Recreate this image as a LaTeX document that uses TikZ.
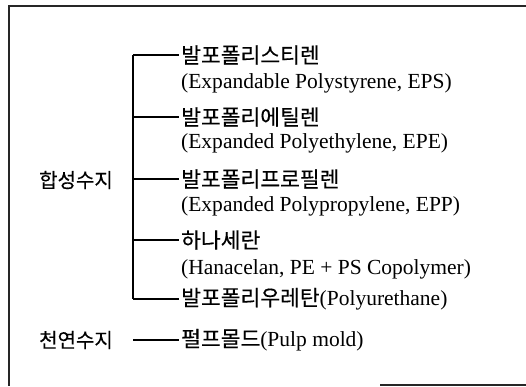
\documentclass[tikz,border=0pt]{standalone}
\usepackage{fontspec}
\setmainfont{Liberation Serif}
\newfontfamily\kr[FakeBold=0.3]{Noto Sans CJK KR}
\usetikzlibrary{positioning}

\newcommand{\engl}[1]{{\rmfamily\fontsize{21.5}{25}\selectfont #1}}

\begin{document}
\begin{tikzpicture}[
  x=1pt, y=-1pt,
  % Text nodes
  kname/.style={anchor=west, inner sep=2pt, font=\kr\fontsize{21.5}{25}\selectfont},
  ename/.style={anchor=west, inner sep=2pt, font=\fontsize{21.5}{25}\selectfont},
  group/.style={inner sep=2pt, font=\kr\fontsize{20}{23}\selectfont},
  % Lines
  branch/.style={draw=black, line width=1.3pt},
  frame/.style={draw=black!85, line width=1.6pt},
]
\useasboundingbox (0,0) rectangle (526,386);

% -------------------------------------------------------
% FRAME
% -------------------------------------------------------
\draw[frame] (526,6) -- (9,6) -- (9,386);
\draw[frame] (380,385) -- (526,385);

% -------------------------------------------------------
% SYNTHETIC RESINS
% -------------------------------------------------------
\node[group] (syn) at (76,180) {합성수지};

\coordinate (t1) at (133,55);
\coordinate (t2) at (133,117);
\coordinate (t3) at (133,179);
\coordinate (t4) at (133,240);
\coordinate (t5) at (133,299);

\node[kname] (eps)  at (179,55)  {발포폴리스티렌};
\node[ename] (epsE) at (179,83)  {(Expandable Polystyrene, EPS)};
\node[kname] (epe)  at (179,117) {발포폴리에틸렌};
\node[ename] (epeE) at (179,143) {(Expanded Polyethylene, EPE)};
\node[kname] (epp)  at (179,179) {발포폴리프로필렌};
\node[ename] (eppE) at (179,206) {(Expanded Polypropylene, EPP)};
\node[kname] (hana) at (179,240) {하나세란};
\node[ename] (hanaE) at (179,269) {(Hanacelan, PE + PS Copolymer)};
\node[kname] (pu)   at (179,299) {발포폴리우레탄\engl{(Polyurethane)}};

\draw[branch] (t1) -- (t5);
\draw[branch] (t1) -- (eps);
\draw[branch] (t2) -- (epe);
\draw[branch] (t3) -- (epp);
\draw[branch] (t4) -- (hana);
\draw[branch] (t5) -- (pu);

% -------------------------------------------------------
% NATURAL RESINS
% -------------------------------------------------------
\node[group] (nat) at (76,340) {천연수지};
\coordinate (n0) at (133,340);
\node[kname] (pulp) at (179,340) {펄프몰드\engl{(Pulp mold)}};

\draw[branch] (n0) -- (pulp);

\end{tikzpicture}
\end{document}
